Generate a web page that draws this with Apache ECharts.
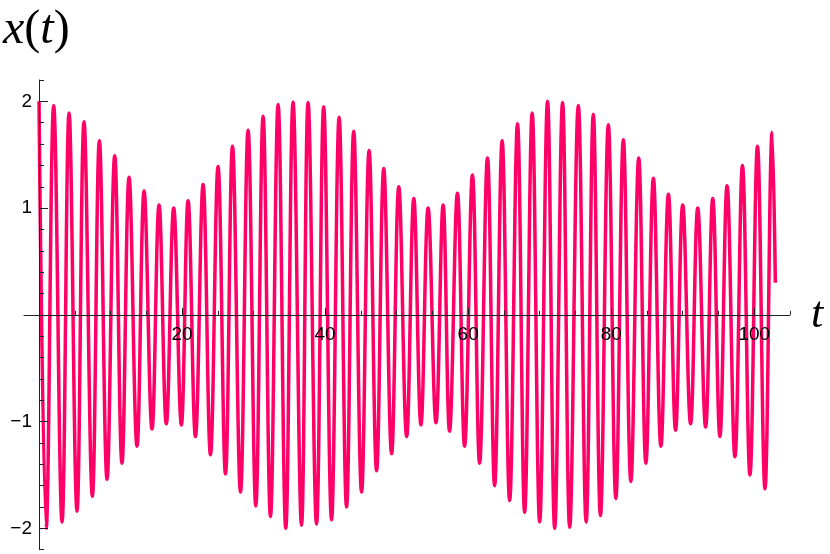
<!DOCTYPE html>
<html>
<head>
<meta charset="utf-8">
<script src="https://cdn.jsdelivr.net/npm/echarts@6/dist/echarts.min.js"></script>
<style>
html,body{margin:0;padding:0;background:#fff;}
#c{width:830px;height:554px;}
</style>
</head>
<body>
<div id="c"></div>
<script>
// Local maxima of x(t): time and value
const peakT = [0, 2.05, 4.2, 6.29, 8.44, 10.58, 12.59, 14.69, 16.78, 18.83,
  20.84, 22.94, 25.03, 27.05, 29.23, 31.33, 33.43, 35.52, 37.62, 39.8,
  41.96, 44.0, 46.15, 48.2, 50.3, 52.4, 54.4, 56.5, 58.5, 60.6,
  62.7, 64.75, 66.9, 68.95, 71.1, 73.2, 75.4, 77.5, 79.6, 81.7,
  83.85, 85.9, 88.0, 90.0, 92.1, 94.2, 96.2, 98.35, 100.45, 102.5];
const peakX = [2.0, 1.96, 1.89, 1.81, 1.63, 1.49, 1.29, 1.16, 1.03, 1.0,
  1.07, 1.22, 1.39, 1.58, 1.73, 1.86, 1.97, 1.995, 1.99, 1.95,
  1.85, 1.72, 1.54, 1.37, 1.20, 1.09, 1.0, 1.03, 1.14, 1.31,
  1.47, 1.63, 1.79, 1.89, 2.0, 1.99, 1.96, 1.88, 1.78, 1.64,
  1.47, 1.28, 1.13, 1.03, 1.0, 1.09, 1.21, 1.40, 1.58, 1.71];
// Local minima of x(t): time and value
const troughT = [1.0, 3.22, 5.31, 7.46, 9.51, 11.6, 13.7, 15.8, 17.8, 19.9,
  21.87, 23.97, 26.07, 28.17, 30.31, 32.36, 34.5, 36.7, 38.8, 40.9,
  43.0, 45.1, 47.2, 49.3, 51.4, 53.4, 55.5, 57.4, 59.5, 61.6,
  63.7, 65.8, 67.9, 70.0, 72.1, 74.2, 76.5, 78.5, 80.65, 82.75,
  84.85, 86.95, 89.0, 91.1, 93.2, 95.2, 97.3, 99.4, 101.5];
const troughX = [-2.0, -1.94, -1.84, -1.70, -1.54, -1.39, -1.23, -1.07, -1.02, -1.03,
  -1.14, -1.31, -1.49, -1.66, -1.79, -1.89, -2.0, -1.97, -1.96, -1.92,
  -1.80, -1.66, -1.46, -1.30, -1.14, -1.03, -1.01, -1.09, -1.23, -1.39,
  -1.60, -1.74, -1.85, -1.94, -2.0, -1.99, -1.94, -1.88, -1.72, -1.56,
  -1.39, -1.23, -1.08, -1.02, -1.05, -1.14, -1.33, -1.50, -1.63];
// Final sample of the curve
const endT = [102.95];
const endX = [0.3];

// Tick labels
const xTickLabels = ['20', '40', '60', '80', '100'];
const yTickLabels = ['\u22122', '\u22121', '1', '2'];

const data = [];
for (let i = 0; i < peakT.length; i++) {
  data.push([peakT[i], peakX[i]]);
  if (i < troughT.length) data.push([troughT[i], troughX[i]]);
}
for (let i = 0; i < endT.length; i++) data.push([endT[i], endX[i]]);

// layout
const L = 24, R = 40, T = 80, H = 469.7;
const W = 830 - L - R;
const xMin = -2.1, xMax = 105, yMin = -2.2, yMax = 2.2;
const pxX = W / (xMax - xMin);
const pxY = H / (yMax - yMin);
const x0 = L + (0 - xMin) * pxX;      // pixel of t = 0
const y0 = T + yMax * pxY;            // pixel of x = 0

const axisCol = '#222';
const AZ = 10;
const labelFont = {fontFamily: '"Liberation Sans", Arial, sans-serif', fontSize: 19, color: '#000'};
const hidden = {show: false};
const hiddenAxis = (g) => ({gridIndex: g, type: 'value', show: false, min: 0, max: 1,
  axisLine: {show: false, onZero: false}, splitLine: hidden});
const transparentLine = {show: true, onZero: false, lineStyle: {color: 'rgba(0,0,0,0)'}};

const chart = echarts.init(document.getElementById('c'), null, {renderer: 'canvas'});
chart.setOption({
  animation: false,
  backgroundColor: '#fff',
  grid: [
    {left: L, width: W, top: T, height: H},                       // 0 data
    {left: L, width: W, top: T, height: y0 - T},                   // 1 x axis line
    {left: x0, width: 105 * pxX, top: T, height: y0 - T},          // 2 x minor ticks
    {left: x0, width: 100 * pxX, top: T, height: y0 - T},          // 3 x major ticks + labels
    {left: x0, width: 105 * pxX, top: T, height: H},               // 4 y axis line + minor ticks
    {left: x0, width: 100 * pxX, top: T + (yMax - 2) * pxY, height: 4 * pxY} // 5 y major ticks + labels
  ],
  xAxis: [
    {gridIndex: 0, type: 'value', min: xMin, max: xMax, show: false,
      axisLine: {show: false, onZero: false}, splitLine: hidden},
    {gridIndex: 1, type: 'value', min: xMin, max: xMax, position: 'bottom', z: AZ,
      axisLine: {show: true, onZero: false, lineStyle: {color: axisCol, width: 1}},
      axisTick: hidden, axisLabel: hidden, splitLine: hidden},
    {gridIndex: 2, type: 'value', min: 0, max: 105, interval: 5, position: 'bottom', z: AZ,
      axisLine: transparentLine,
      axisTick: {show: true, inside: true, length: 4, lineStyle: {color: axisCol}},
      axisLabel: hidden, splitLine: hidden},
    {gridIndex: 3, type: 'value', min: 0, max: 100, interval: 20, position: 'bottom', z: AZ,
      axisLine: transparentLine,
      axisTick: {show: true, inside: true, length: 7, lineStyle: {color: axisCol}},
      axisLabel: Object.assign({show: true, margin: 10,
        formatter: v => { const i = Math.round(v / 20) - 1; return (i >= 0 && i < xTickLabels.length && Math.abs(v - (i + 1) * 20) < 1e-6) ? xTickLabels[i] : ''; }
      }, labelFont),
      splitLine: hidden},
    hiddenAxis(4),
    hiddenAxis(5)
  ],
  yAxis: [
    {gridIndex: 0, type: 'value', min: yMin, max: yMax, show: false,
      axisLine: {show: false, onZero: false}, splitLine: hidden},
    hiddenAxis(1),
    hiddenAxis(2),
    hiddenAxis(3),
    {gridIndex: 4, type: 'value', min: yMin, max: yMax, interval: 0.2, position: 'left', z: AZ,
      axisLine: {show: true, onZero: false, lineStyle: {color: axisCol, width: 1}},
      axisTick: {show: true, inside: true, length: 5, lineStyle: {color: axisCol}},
      axisLabel: hidden, splitLine: hidden},
    {gridIndex: 5, type: 'value', min: -2, max: 2, interval: 1, position: 'left', z: AZ,
      axisLine: transparentLine,
      axisTick: {show: true, inside: true, length: 9, lineStyle: {color: axisCol}},
      axisLabel: Object.assign({show: true, margin: 7,
        formatter: v => { const m = {'-2': 0, '-1': 1, '1': 2, '2': 3}; const k = String(Math.round(v)); return (k in m) ? yTickLabels[m[k]] : ''; }
      }, labelFont),
      splitLine: hidden}
  ],
  series: [{
    type: 'line',
    xAxisIndex: 0, yAxisIndex: 0,
    z: 2,
    data: data,
    smooth: 0.4,
    showSymbol: false,
    symbol: 'none',
    clip: false,
    lineStyle: {color: '#ff0066', width: 3.5, join: 'round'}
  }],
  graphic: [
    {type: 'text', left: 3, top: 6, z: 10,
      style: {text: '{i|x}{r|(}{i|t}{r|)}', rich: {
        i: {font: 'italic 48px "Liberation Serif", "DejaVu Serif", serif', fill: '#000'},
        r: {font: '48px "Liberation Serif", "DejaVu Serif", serif', fill: '#000'}
      }}},
    {type: 'text', left: 811, top: 293, z: 10,
      style: {text: 't', font: 'italic 44px "Liberation Serif", "DejaVu Serif", serif', fill: '#000'}}
  ]
});
</script>
</body>
</html>
